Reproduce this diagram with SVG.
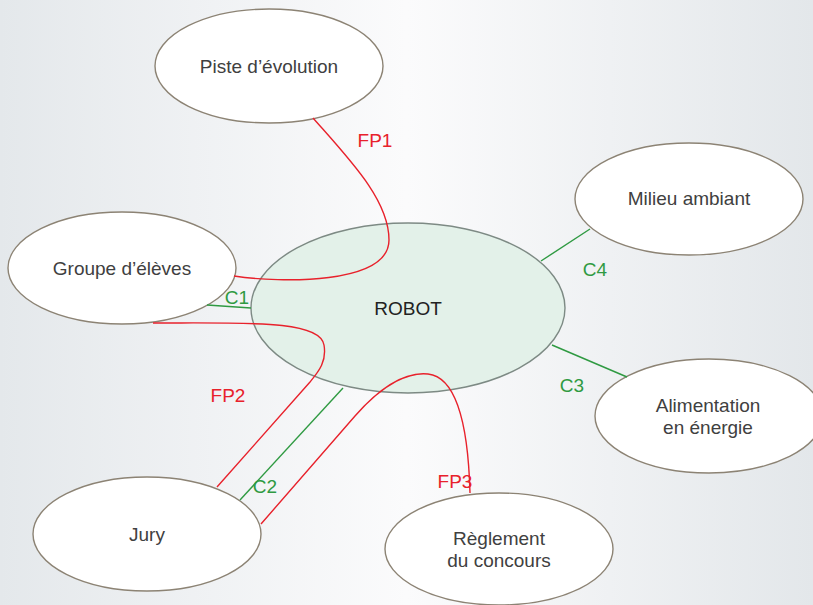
<svg xmlns="http://www.w3.org/2000/svg" width="813" height="605" viewBox="0 0 813 605">
  <defs>
    <linearGradient id="bg" x1="0" y1="0" x2="1" y2="0">
      <stop offset="0" stop-color="#e4e8eb"/>
      <stop offset="0.5" stop-color="#fbfbfc"/>
      <stop offset="1" stop-color="#e3e7ea"/>
    </linearGradient>
    <style>
      .node { fill: #ffffff; stroke: #8c8374; stroke-width: 1.4; }
      .core { fill: #e3f1e9; stroke: #7d8a84; stroke-width: 1.4; }
      .lbl { font-family: "Liberation Sans", Arial, sans-serif; font-size: 19px; fill: #404040; text-anchor: middle; }
      .big { font-family: "Liberation Sans", Arial, sans-serif; font-size: 19px; fill: #222222; text-anchor: middle; }
      .fp { fill: none; stroke: #e8212b; stroke-width: 1.4; }
      .c { fill: none; stroke: #2f9a42; stroke-width: 1.4; }
      .fpt { font-family: "Liberation Sans", Arial, sans-serif; font-size: 19px; fill: #e8212b; text-anchor: middle; }
      .ct { font-family: "Liberation Sans", Arial, sans-serif; font-size: 19px; fill: #2f9a42; text-anchor: middle; }
    </style>
  </defs>

  <rect x="0" y="0" width="813" height="605" fill="url(#bg)"/>

  <!-- outer nodes -->
  <g id="piste">
    <ellipse class="node" cx="269" cy="66" rx="114" ry="57"/>
    <text class="lbl" x="269" y="73">Piste d’évolution</text>
  </g>
  <g id="groupe">
    <ellipse class="node" cx="122" cy="268" rx="114" ry="56"/>
    <text class="lbl" x="122" y="275">Groupe d’élèves</text>
  </g>
  <g id="jury">
    <ellipse class="node" cx="147" cy="534" rx="114" ry="57"/>
    <text class="lbl" x="147" y="541">Jury</text>
  </g>
  <g id="reglement">
    <ellipse class="node" cx="499" cy="549" rx="114" ry="56"/>
    <text class="lbl" x="499" y="545">Règlement</text>
    <text class="lbl" x="499" y="567">du concours</text>
  </g>
  <g id="alimentation">
    <ellipse class="node" cx="709" cy="416" rx="114" ry="57"/>
    <text class="lbl" x="708" y="412">Alimentation</text>
    <text class="lbl" x="708" y="434">en énergie</text>
  </g>
  <g id="milieu">
    <ellipse class="node" cx="689" cy="199" rx="114" ry="56"/>
    <text class="lbl" x="689" y="205">Milieu ambiant</text>
  </g>

  <!-- central node -->
  <g id="robot">
    <ellipse class="core" cx="408" cy="308" rx="157" ry="85"/>
    <text class="big" x="408" y="315">ROBOT</text>
  </g>

  <!-- functions and constraints -->
  <g id="connectors">
    <path class="fp" d="M313,118 C350,160 389,200 389,240 C389,285 280,283 234,276"/>
    <path class="fp" d="M153,323 C250,323 320,320 324,345 C327,362 318,372 310,382 L217,487"/>
    <path class="fp" d="M261,524 L355,416 C385,382 410,372 428,374 C455,377 468,420 470,493"/>
    <path class="c" d="M207,305 L251,308"/>
    <path class="c" d="M343,388 L240,500"/>
    <path class="c" d="M552,345 L627,377"/>
    <path class="c" d="M541,261 L590,229"/>

    <text class="fpt" x="375" y="147">FP1</text>
    <text class="fpt" x="228" y="402">FP2</text>
    <text class="fpt" x="455" y="488">FP3</text>
    <text class="ct" x="237" y="304">C1</text>
    <text class="ct" x="265" y="493">C2</text>
    <text class="ct" x="572" y="392">C3</text>
    <text class="ct" x="595" y="276">C4</text>
  </g>
</svg>
